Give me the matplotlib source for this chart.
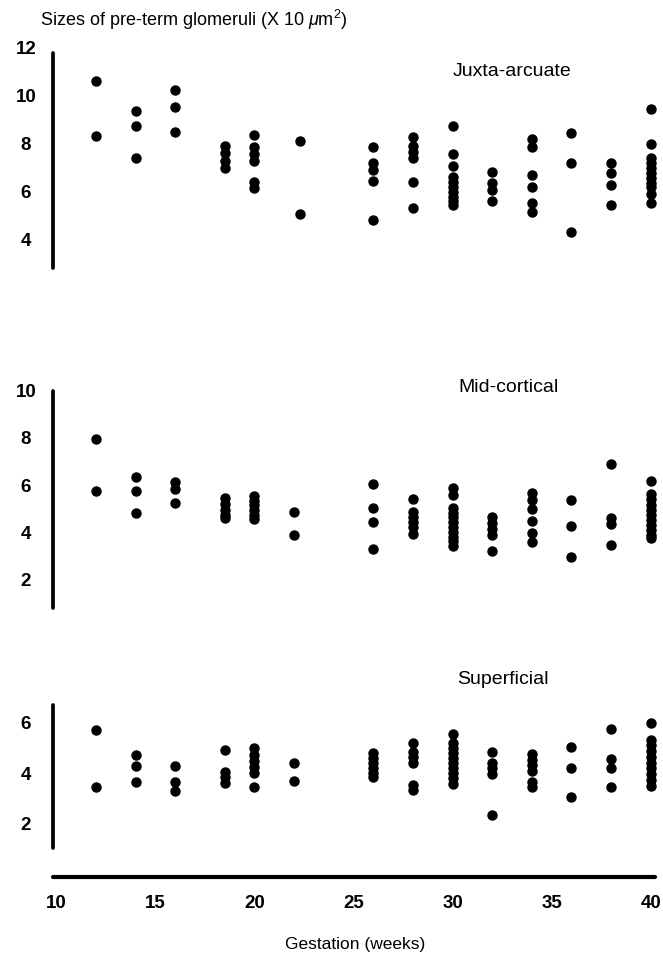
import matplotlib
matplotlib.use("Agg")
import matplotlib.pyplot as plt

plt.rcParams['font.family'] = ['Liberation Sans', 'DejaVu Sans']
plt.rcParams['mathtext.fontset'] = 'custom'
plt.rcParams['mathtext.it'] = 'Liberation Sans:italic'
plt.rcParams['mathtext.rm'] = 'Liberation Sans'

# ---- data (gestation in weeks, glomerular size x10 um^2) ----
juxta_weeks = [12, 14, 16, 18.5, 20, 22.3, 26, 28, 30, 32, 34, 36, 38, 40]
juxta_sizes = [
    [10.62, 8.35],
    [9.38, 8.75, 7.40],
    [10.25, 9.53, 8.50],
    [7.92, 7.61, 7.30, 7.01],
    [8.38, 7.89, 7.58, 7.30, 6.43, 6.18],
    [8.13, 5.08],
    [7.89, 7.20, 6.92, 6.47, 4.83],
    [8.30, 7.92, 7.68, 7.40, 6.43, 5.32],
    [8.75, 7.58, 7.08, 6.64, 6.43, 6.22, 6.01, 5.80, 5.64, 5.46],
    [6.82, 6.39, 6.08, 5.64],
    [8.19, 7.89, 6.71, 6.19, 5.55, 5.18],
    [8.44, 7.20, 4.33],
    [7.20, 6.80, 6.29, 5.46],
    [9.45, 8.00, 7.40, 7.20, 6.99, 6.78, 6.57, 6.39, 6.22, 5.92, 5.53],
]

mid_weeks = [12, 14, 16, 18.5, 20, 22, 26, 28, 30, 32, 34, 36, 38, 40]
mid_sizes = [
    [7.95, 5.76],
    [6.33, 5.75, 4.83],
    [6.12, 5.82, 5.23],
    [5.44, 5.19, 4.94, 4.73, 4.59],
    [5.54, 5.34, 5.16, 4.94, 4.73, 4.55],
    [4.85, 3.89],
    [6.05, 5.04, 4.44, 3.29],
    [5.41, 4.85, 4.66, 4.45, 4.24, 3.93],
    [5.86, 5.58, 5.02, 4.83, 4.64, 4.45, 4.24, 4.03, 3.81, 3.63, 3.43],
    [4.64, 4.38, 4.14, 3.89, 3.21],
    [5.65, 5.37, 4.97, 4.49, 3.98, 3.60],
    [5.37, 4.28, 2.97],
    [6.89, 4.62, 4.34, 3.46],
    [6.19, 5.62, 5.40, 5.16, 4.94, 4.73, 4.52, 4.31, 4.10, 3.89, 3.75],
]

sup_weeks = [12, 14, 16, 18.5, 20, 22, 26, 28, 30, 32, 34, 36, 38, 40]
sup_sizes = [
    [5.72, 3.47],
    [4.73, 4.30, 3.64],
    [4.29, 3.64, 3.30],
    [4.92, 4.06, 3.84, 3.60],
    [4.99, 4.73, 4.49, 4.24, 4.00, 3.47],
    [4.42, 3.71],
    [4.79, 4.60, 4.40, 4.20, 4.02, 3.87],
    [5.19, 4.86, 4.66, 4.42, 3.54, 3.34],
    [5.55, 5.19, 4.99, 4.79, 4.60, 4.40, 4.20, 4.00, 3.80, 3.58],
    [4.83, 4.42, 4.20, 3.97, 2.35],
    [4.77, 4.53, 4.33, 4.10, 3.67, 3.44],
    [5.06, 4.22, 3.05],
    [5.76, 4.57, 4.22, 3.47],
    [5.98, 5.32, 5.12, 4.90, 4.66, 4.42, 4.20, 3.97, 3.73, 3.50],
]

panel_names = ["Juxta-arcuate", "Mid-cortical", "Superficial"]
juxta_yticks = [4, 6, 8, 10, 12]
mid_yticks = [2, 4, 6, 8, 10]
sup_yticks = [2, 4, 6]
x_ticks = [10, 15, 20, 25, 30, 35, 40]

title_text = r"Sizes of pre-term glomeruli (X 10 $\mu$m$^{2}$)"
xlabel_text = "Gestation (weeks)"

# ---- layout (pixel based) ----
W, H = 663, 955
fig = plt.figure(figsize=(W / 100, H / 100), dpi=100)

def add_axes_px(left, top, right, bottom):
    return fig.add_axes([left / W, 1 - bottom / H, (right - left) / W, (bottom - top) / H])

XLIM = (9.833, 40.22)
TICK_FS = 13.5
LABEL_FS = 14.0

panels = [
    (juxta_weeks, juxta_sizes, juxta_yticks, (36.0, 276.0), (2.5, 12.5), (2.83, 11.8), (512, 72)),
    (mid_weeks, mid_sizes, mid_yticks, (378.9, 614.9), (0.5, 10.5), (0.79, 10.0), (508, 387)),
    (sup_weeks, sup_sizes, sup_yticks, (702.7, 853.9), (0.8, 6.8), (1.02, 6.71), (503, 680)),
]

for (weeks, sizes, yt, (tp, bp), ylim, sb, (lx, ly)), name in zip(panels, panel_names):
    ax = add_axes_px(53, tp, 655, bp)
    ax.set_xlim(*XLIM)
    ax.set_ylim(*ylim)
    for wk, vals in zip(weeks, sizes):
        ax.plot([wk] * len(vals), vals, 'o', color='black', ms=6.5, mec='black', clip_on=False)
    for s in ['top', 'right', 'bottom']:
        ax.spines[s].set_visible(False)
    ax.spines['left'].set_linewidth(2.7)
    ax.spines['left'].set_bounds(*sb)
    ax.spines['left'].set_capstyle('round')
    ax.set_xticks([])
    ax.set_yticks(yt)
    ax.set_yticklabels([str(v) for v in yt])
    ax.tick_params(axis='y', length=0, pad=19.5, labelsize=TICK_FS)
    for lab in ax.get_yticklabels():
        lab.set_horizontalalignment('center')
        lab.set_fontweight('bold')
    ax.patch.set_alpha(0)
    fig.text(lx / W, 1 - ly / H, name, ha='center', va='center', fontsize=LABEL_FS)

# bottom x axis
axb = add_axes_px(53, 875.7, 655, 876.7)
axb.set_xlim(*XLIM)
axb.set_yticks([])
for s in ['top', 'right', 'left']:
    axb.spines[s].set_visible(False)
axb.spines['bottom'].set_linewidth(3.0)
axb.spines['bottom'].set_capstyle('round')
axb.set_xticks(x_ticks)
axb.set_xticklabels([str(v) for v in x_ticks])
axb.tick_params(axis='x', length=0, pad=13, labelsize=TICK_FS)
for lab in axb.get_xticklabels():
    lab.set_fontweight('bold')
axb.patch.set_alpha(0)

fig.text(355 / W, 1 - 944 / H, xlabel_text, ha='center', va='center', fontsize=12.5)
fig.text(40 / W, 1 - 20 / H, title_text, ha='left', va='center', fontsize=13)

fig.savefig("out.png", dpi=100)
